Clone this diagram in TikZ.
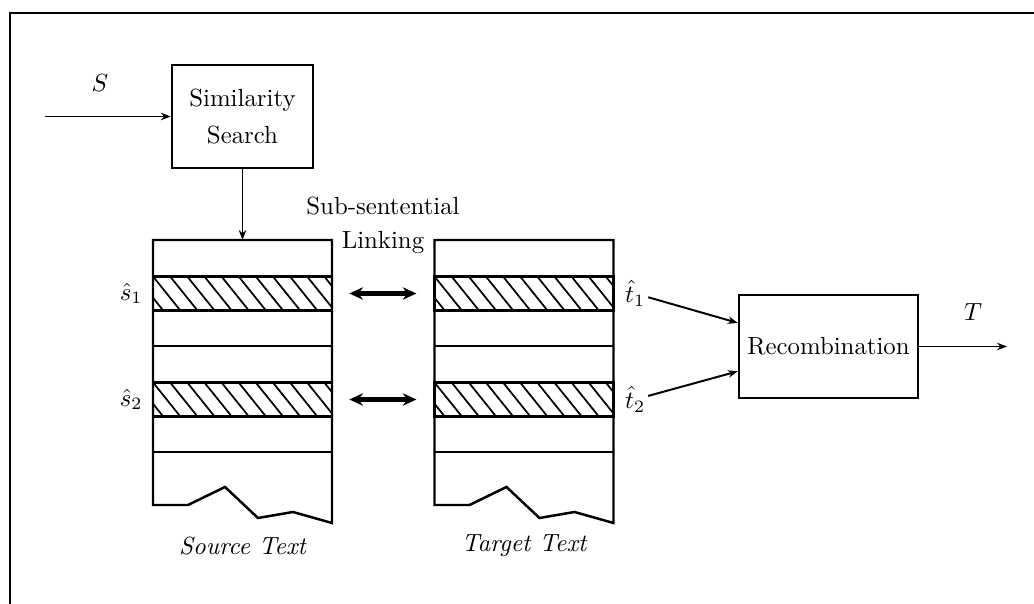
\documentclass[tikz,border=0pt]{standalone}
\usepackage{amsmath}
\usepackage{tikz}
\usetikzlibrary{arrows.meta, positioning}

\tikzset{
  block/.style={draw, line width=1pt, align=center, font=\fontsize{10}{15}\selectfont,
    minimum width=56.8pt, minimum height=41.5pt},
  band/.style={draw, line width=1pt, inner sep=0pt, minimum width=72.1pt, minimum height=13.7pt,
    path picture={\foreach \k in {-2,...,11}
      \draw[line width=0.7pt] ([xshift=\k*6.9pt]path picture bounding box.north west) -- ++(11pt,-13.7pt);}},
  hatlabel/.style={inner sep=1pt},
  flow/.style={-{Stealth[length=4pt, width=3pt]}, line width=0.8pt},
  link/.style={{Stealth[length=5.5pt, width=5pt]}-{Stealth[length=5.5pt, width=5pt]}, line width=2pt},
}

\begin{document}
\begin{tikzpicture}[x=0.403pt, y=-0.403pt]

\useasboundingbox (0,0) rectangle (1034,604);
\draw[line width=1pt] (10,604) -- (10,13) -- (1034,13);  % frame

% Source and target sheets
\foreach \dx in {0,281.5} {
    \draw[line width=1pt] (153+\dx,505) -- (153+\dx,240) -- (332+\dx,240) -- (332+\dx,523)
        -- (293+\dx,512) -- (258+\dx,518) -- (225+\dx,487) -- (188+\dx,505) -- cycle;
    \draw[line width=1pt] (153+\dx,346) -- (332+\dx,346);
    \draw[line width=1pt] (153+\dx,452) -- (332+\dx,452);
}

\node[band] (s1) at (242.5,293.5) {};
\node[band] (s2) at (242.5,399.5) {};
\node[band] (t1) at (524,293.5) {};
\node[band] (t2) at (524,399.5) {};

\node[hatlabel, left=2.5pt of s1] (hat-s1) {$\hat{s}_1$};
\node[hatlabel, left=2.5pt of s2] (hat-s2) {$\hat{s}_2$};
\node[hatlabel, right=3pt of t1] (hat-t1) {$\hat{t}_1$};
\node[hatlabel, right=3pt of t2] (hat-t2) {$\hat{t}_2$};

\node[font=\itshape] (src-cap) at (242.5,546) {Source Text};
\node[font=\itshape] (tgt-cap) at (524,546) {Target Text};

% Boxes
\node[block] (search) at (242.5,116.5) {Similarity\\Search};
\node[block, minimum width=72.1pt] (recomb) at (828.5,346.5) {Recombination};

\node (sub) at (383,225) [align=center, font=\fontsize{10}{13.7}\selectfont] {Sub-sentential\\Linking};
\node (s-lab) at (100,83) {$S$};
\node (t-lab) at (973,312) {$T$};

\coordinate (in) at (45,116.5);
\coordinate (src-top) at (242.5,240);
\coordinate (out) at (1007,346.5);

% Connectors
\draw[flow] (in) -- (search);
\draw[flow] (search) -- (src-top);
\draw[link] ([xshift=6.5pt]s1.east) -- ([xshift=-6.8pt]t1.west);
\draw[link] ([xshift=6.5pt]s2.east) -- ([xshift=-6.8pt]t2.west);
\draw[flow] (hat-t1) -- ([yshift=9.5pt]recomb.west);
\draw[flow] (hat-t2) -- ([yshift=-10pt]recomb.west);
\draw[flow] (recomb) -- (out);

\end{tikzpicture}
\end{document}
